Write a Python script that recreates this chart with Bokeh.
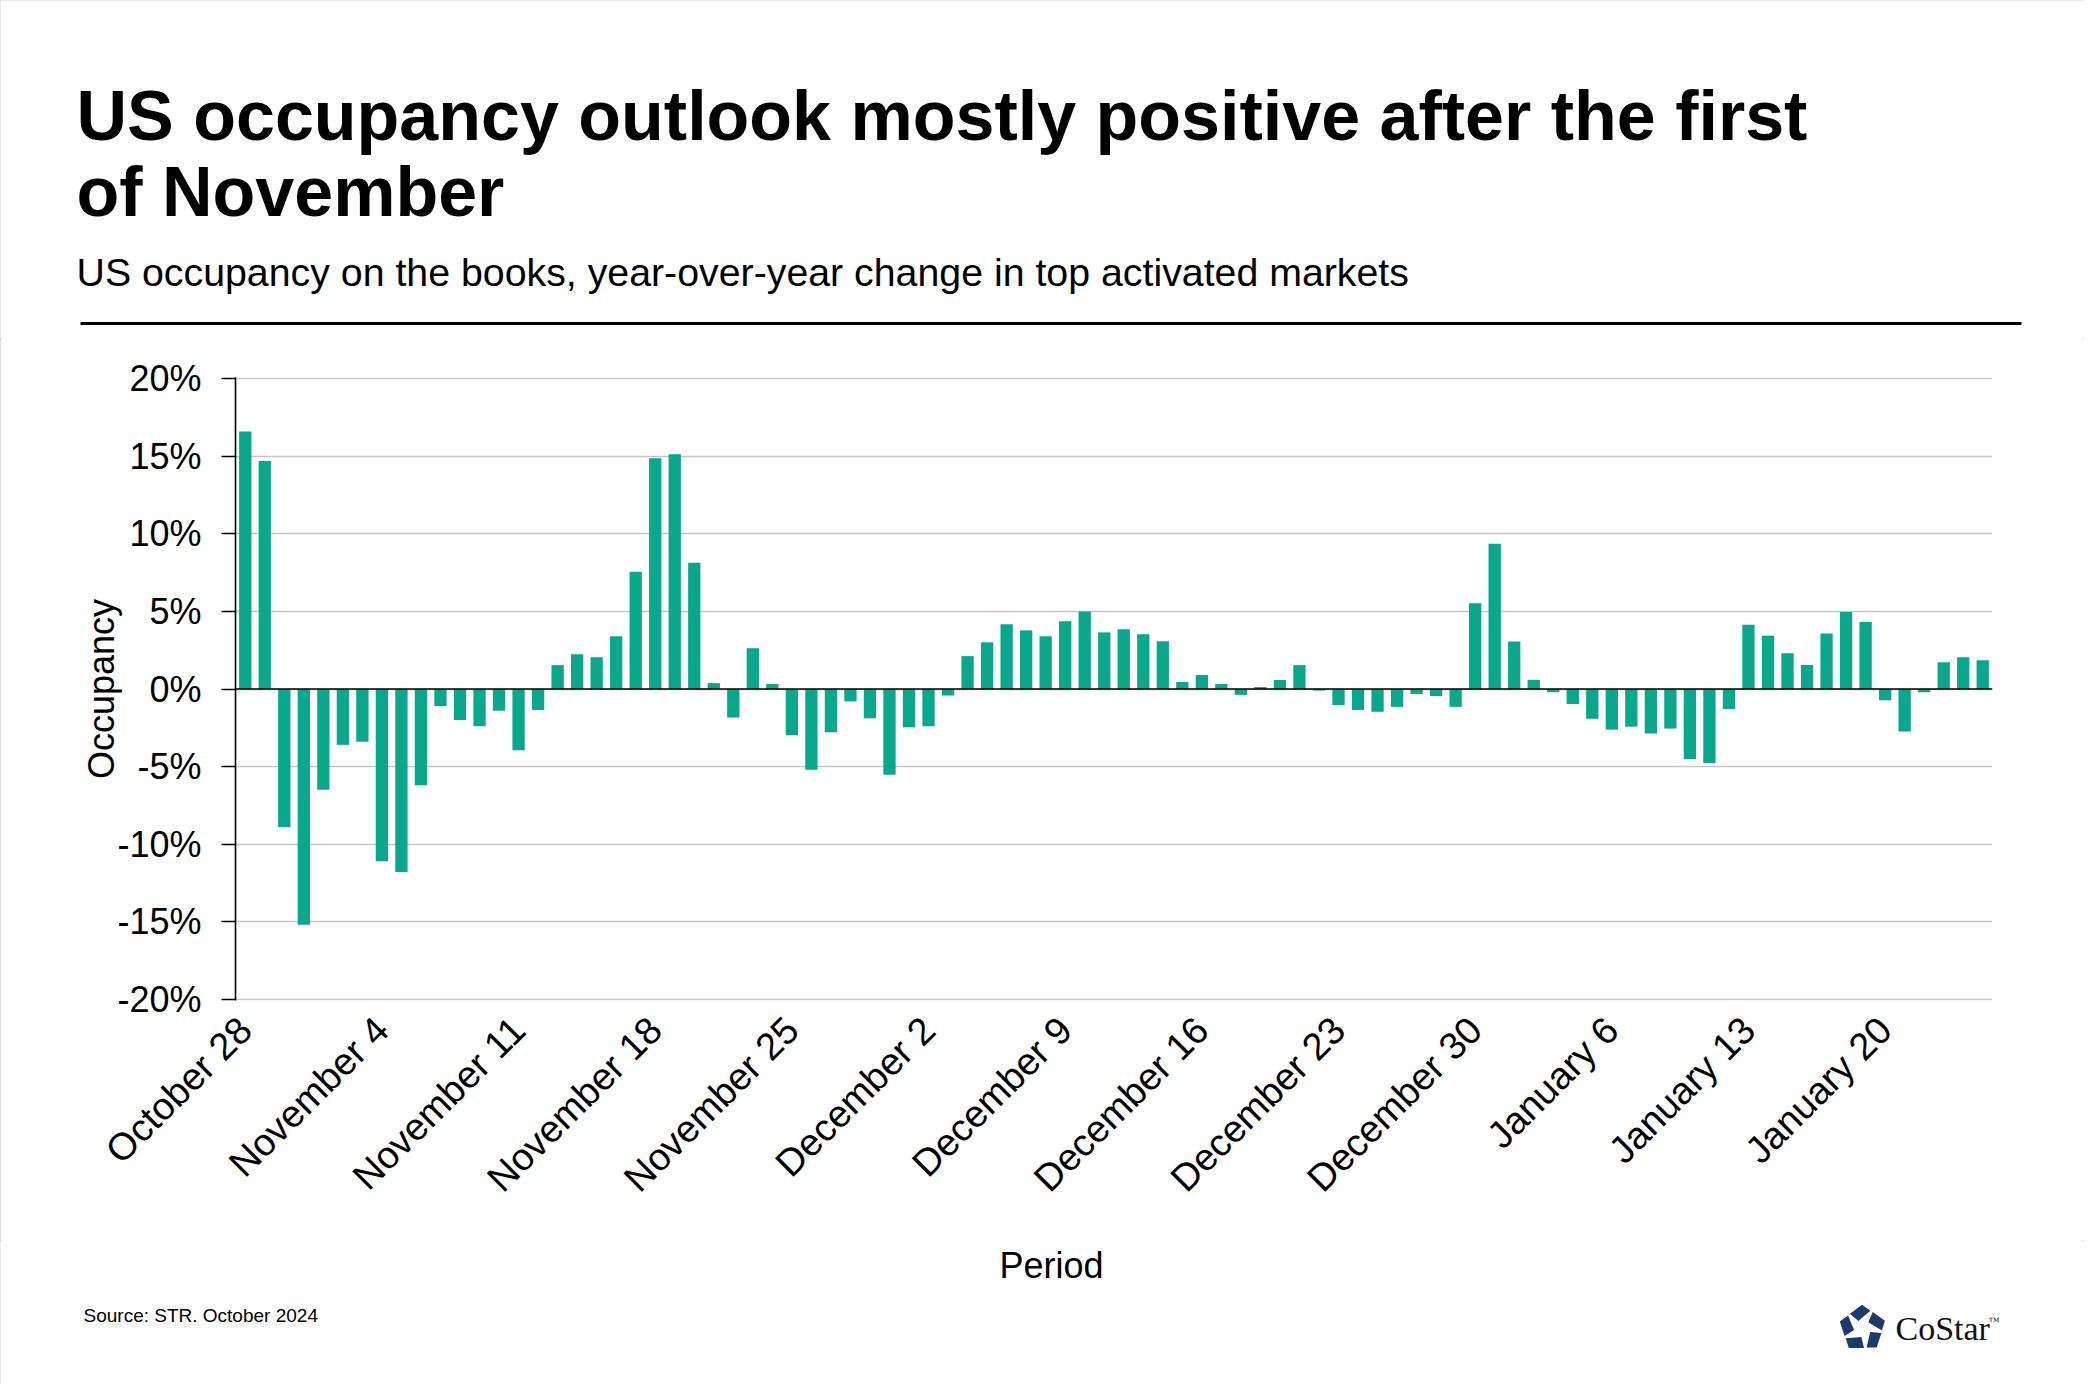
import math
import pandas as pd
from bokeh.plotting import figure
from bokeh.layouts import column
from bokeh.models import Range1d, FixedTicker, PrintfTickFormatter, Span, ColumnDataSource
from bokeh.core.properties import value
from bokeh.embed import file_html
from bokeh.resources import INLINE

# ---------------- data ----------------
occupancy = [
    16.6, 14.7, -8.9, -15.2, -6.5, -3.6, -3.4, -11.1, -11.8, -6.2,
    -1.1, -2.0, -2.4, -1.4, -3.95, -1.35, 1.54, 2.24, 2.05, 3.4,
    7.56, 14.87, 15.13, 8.14, 0.38, -1.84, 2.63, 0.32, -2.98, -5.21,
    -2.79, -0.8, -1.89, -5.53, -2.47, -2.4, -0.42, 2.12, 3.01, 4.17,
    3.78, 3.4, 4.36, 5.0, 3.65, 3.85, 3.53, 3.08, 0.45, 0.9,
    0.32, -0.38, 0.13, 0.58, 1.54, -0.1, -1.03, -1.35, -1.47, -1.15,
    -0.32, -0.45, -1.15, 5.53, 9.36, 3.06, 0.59, -0.21, -0.97, -1.92,
    -2.62, -2.43, -2.87, -2.55, -4.51, -4.77, -1.29, 4.14, 3.44, 2.30,
    1.54, 3.57, 4.96, 4.32, -0.72, -2.74, -0.21, 1.73, 2.05, 1.86,
]
start_date = "2024-10-28"
dates = pd.date_range(start_date, periods=len(occupancy))
day_labels = [f"{d.strftime('%B')} {d.day}" for d in dates]
label_every = 7
y_ticks = [-20, -15, -10, -5, 0, 5, 10, 15, 20]

title_lines = ["US occupancy outlook mostly positive after the first", "of November"]
subtitle = "US occupancy on the books, year-over-year change in top activated markets"
x_label = "Period"
y_label = "Occupancy"
source_note = "Source: STR. October 2024"
brand = "CoStar"

# ---------------- style ----------------
BAR = "#0aa88b"
NAVY = "#1c3a6b"
GRID = "#c6c6c6"
SANS = "Liberation Sans"

W = 2084
TOP_H = 338          # title block
CHART_H = 902        # chart block
BOT_H = 1384 - TOP_H - CHART_H
L, R, T = 235, 92, 39
FRAME_H = 623
B = CHART_H - T - FRAME_H


def text_fig(h):
    f = figure(width=W, height=h, output_backend="svg", toolbar_location=None,
               x_range=Range1d(0, W), y_range=Range1d(h, 0), min_border=0,
               x_axis_type=None, y_axis_type=None, frame_align=False,
               background_fill_color="white", border_fill_color="white")
    f.grid.visible = False
    f.outline_line_color = None
    return f


def put(f, txt, x, y, size, bold=False, align="left", font=SANS, color="black", shift=0.39):
    # y is the intended baseline; compensate the renderer's baseline offset
    f.text(x=[x], y=[y - shift * size], text=[txt], text_font=value(font),
           text_font_size=value(f"{size}px"),
           text_font_style="bold" if bold else "normal", text_align=align,
           text_baseline="alphabetic", text_color=color)


# ---------------- title block ----------------
top = text_fig(TOP_H)
put(top, title_lines[0], 76, 141.7, 70, bold=True, shift=0.38)
put(top, title_lines[1], 76, 218, 70, bold=True, shift=0.38)
put(top, subtitle, 76, 287.5, 39.3, shift=0.41)
top.quad(left=[80], right=[2021], top=[321.5], bottom=[324.5], fill_color="black", line_color=None)

# ---------------- chart ----------------
n = len(occupancy)
src = ColumnDataSource(dict(x=list(range(n)), y=occupancy, label=day_labels))

p = figure(width=W, height=CHART_H, output_backend="svg", toolbar_location=None,
           x_range=Range1d(-0.5, n - 0.5), y_range=Range1d(y_ticks[0] - 0.08, y_ticks[-1] + 0.08),
           min_border_left=L, min_border_right=R, min_border_top=T, min_border_bottom=B,
           frame_align=False,
           background_fill_color="white", border_fill_color="white")
p.outline_line_color = None

p.vbar(x="x", top="y", bottom=0, width=0.63, fill_color=BAR, line_color=None, source=src)
p.add_layout(Span(location=0, dimension="width", line_color="black", line_width=1.6))

tick_idx = list(range(0, n, label_every))
p.xaxis.ticker = FixedTicker(ticks=tick_idx)
p.xaxis.major_label_overrides = {i: day_labels[i] for i in tick_idx}
p.xaxis.major_label_orientation = math.pi / 4
p.xaxis.major_label_text_font = SANS
p.xaxis.major_label_text_font_size = "38px"
p.xaxis.major_label_text_color = "black"
p.xaxis.axis_line_color = None
p.xaxis.major_tick_line_color = None
p.xaxis.minor_tick_line_color = None
p.xaxis.major_label_standoff = 17

p.yaxis.ticker = FixedTicker(ticks=y_ticks)
p.yaxis.formatter = PrintfTickFormatter(format="%d%%")
p.yaxis.major_label_text_font = SANS
p.yaxis.major_label_text_font_size = "36px"
p.yaxis.major_label_text_color = "black"
p.yaxis.axis_line_color = "black"
p.yaxis.axis_line_width = 1.6
p.yaxis.major_tick_line_color = "black"
p.yaxis.major_tick_line_width = 1.6
p.yaxis.major_tick_out = 14
p.yaxis.major_tick_in = 0
p.yaxis.minor_tick_line_color = None
p.yaxis.major_label_standoff = 20
p.yaxis.axis_label = y_label
p.yaxis.axis_label_text_font = SANS
p.yaxis.axis_label_text_font_size = "36px"
p.yaxis.axis_label_text_font_style = "normal"
p.yaxis.axis_label_text_color = "black"
p.yaxis.axis_label_standoff = -8

p.xgrid.visible = False
p.ygrid.ticker = FixedTicker(ticks=y_ticks)
p.ygrid.grid_line_color = GRID
p.ygrid.grid_line_width = 1.5

# ---------------- footer ----------------
bot = text_fig(BOT_H)
Y0 = TOP_H + CHART_H
put(bot, x_label, 1051, 1278 - Y0, 36, align="center", shift=0.37)
put(bot, source_note, 83, 1323 - Y0, 19, shift=0.42)
put(bot, brand, 1895, 1340 - Y0, 34, font="Liberation Serif", color="#111111", shift=0.36)
put(bot, "\u2122", 1988, 1324 - Y0, 11, font="Liberation Serif", color="#111111", shift=0.36)

# CoStar mark: five navy blades forming a pinwheel pentagon
cx, cy, Rr = 1862, 1328 - Y0, 25
verts = [(cx + Rr * math.cos(math.radians(90 + 72 * k)), cy - Rr * math.sin(math.radians(90 + 72 * k)))
         for k in range(5)]
cuts = []
for k in range(5):
    (ax, ay), (bx, by) = verts[k], verts[(k + 1) % 5]
    cuts.append((ax + 0.6 * (bx - ax), ay + 0.6 * (by - ay)))
pxs, pys = [], []
for k in range(5):
    ang = math.radians(90 + 72 * k + 36)
    q = (cx + 0.3 * Rr * math.cos(ang), cy - 0.3 * Rr * math.sin(ang))
    poly = [cuts[k - 1], verts[k], cuts[k], q]
    mx = sum(pt[0] for pt in poly) / 4
    my = sum(pt[1] for pt in poly) / 4
    poly = [(mx + 0.86 * (px - mx), my + 0.86 * (py - my)) for px, py in poly]
    pxs.append([pt[0] for pt in poly])
    pys.append([pt[1] for pt in poly])
bot.patches(xs=pxs, ys=pys, fill_color=NAVY, line_color=None)

page = column(top, p, bot, spacing=0,
              styles={"outline": "2px solid #d2d2d2", "outline-offset": "-2px"})

open("out.html", "w").write(file_html(page, INLINE))
